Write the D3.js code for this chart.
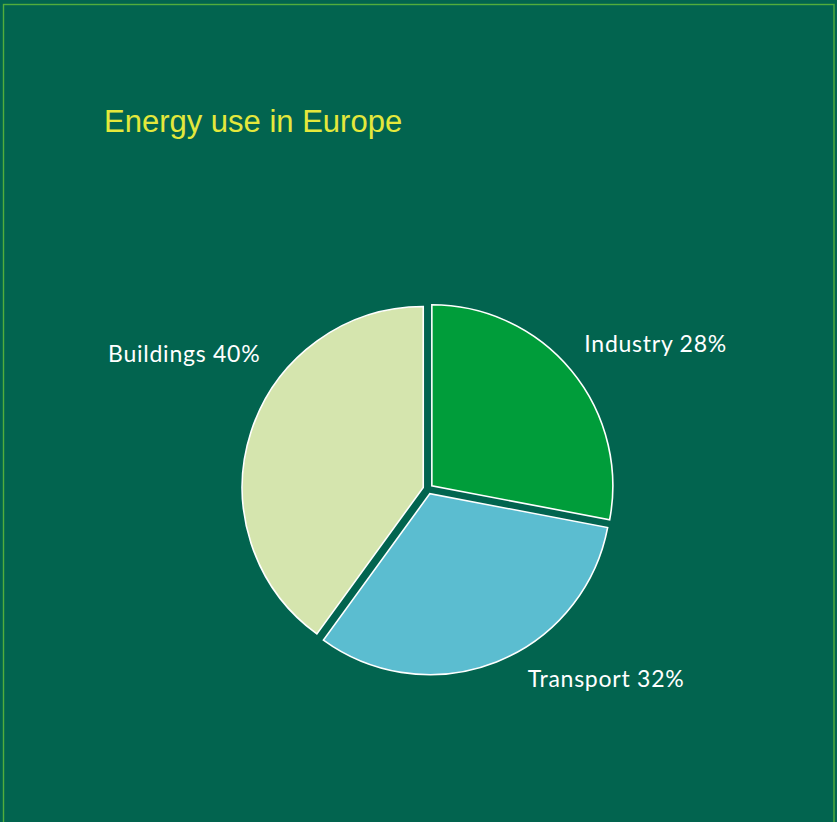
<!DOCTYPE html>
<html>
<head>
<meta charset="utf-8">
<script src="https://cdn.jsdelivr.net/npm/d3@7"></script>
<style>
  html, body { margin: 0; padding: 0; background: #02644f; }
  svg { display: block; }
</style>
</head>
<body>
<svg id="chart" width="837" height="822"></svg>
<script>
// Share of final energy use by sector
const categories = ["Industry", "Transport", "Buildings"];
const shares = [28, 32, 40];
const colors = ["#009d3a", "#5bbdd0", "#d5e5ae"];

const width = 837, height = 822;
const svg = d3.select("#chart");

// background and thin frame
svg.append("rect").attr("width", width).attr("height", height).attr("fill", "#02644f");
svg.append("rect")
  .attr("x", 3.5).attr("y", 4.5)
  .attr("width", 830.5).attr("height", height + 10)
  .attr("fill", "none").attr("stroke", "#52ad3c").attr("stroke-width", 1.4);

svg.append("text")
  .attr("x", 104).attr("y", 132)
  .attr("fill", "#e4e83c")
  .attr("font-family", "'Liberation Sans', Arial, sans-serif")
  .attr("font-size", 31)
  .text("Energy use in Europe");

const cx = 428, cy = 489, radius = 181, explode = 5;

const data = categories.map((c, i) => ({ name: c, value: shares[i], color: colors[i] }));
const pie = d3.pie().value(d => d.value).sort(null);
const arcs = pie(data);
const arc = d3.arc().innerRadius(0).outerRadius(radius);
const labelArc = d3.arc().innerRadius(250).outerRadius(250);

const g = svg.append("g").attr("transform", `translate(${cx},${cy})`);

g.selectAll("path.slice")
  .data(arcs)
  .join("path")
  .attr("class", "slice")
  .attr("transform", d => {
    const a = (d.startAngle + d.endAngle) / 2;
    return `translate(${Math.sin(a) * explode},${-Math.cos(a) * explode})`;
  })
  .attr("d", arc)
  .attr("fill", d => d.data.color)
  .attr("stroke", "#ffffff")
  .attr("stroke-width", 1.6)
  .attr("stroke-linejoin", "miter");

// label nudges away from the plain bisector position (applied to the baseline point)
const labelNudge = { Industry: [35, 22], Transport: [86, -34], Buildings: [-6, -50] };

g.selectAll("text.label")
  .data(arcs)
  .join("text")
  .attr("class", "label")
  .attr("x", d => labelArc.centroid(d)[0] + labelNudge[d.data.name][0])
  .attr("y", d => labelArc.centroid(d)[1] + labelNudge[d.data.name][1])
  .attr("text-anchor", "middle")
  .attr("fill", "#ffffff")
  .attr("font-family", "Lato, 'Open Sans', sans-serif")
  .attr("font-size", 23)
  .attr("letter-spacing", 0.75)
  .text(d => `${d.data.name} ${d.data.value}%`);
</script>
</body>
</html>
